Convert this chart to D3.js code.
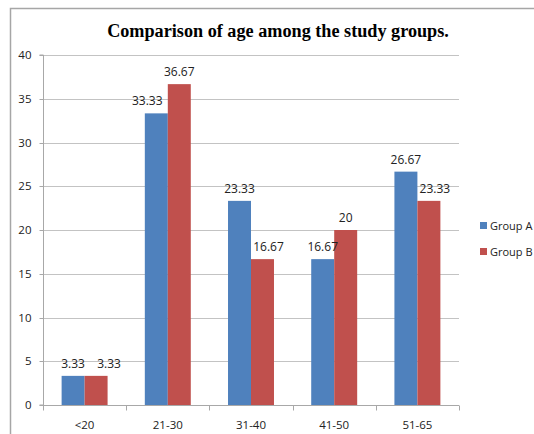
<!DOCTYPE html>
<html>
<head>
<meta charset="utf-8">
<script src="https://cdn.jsdelivr.net/npm/d3@7"></script>
<style>
  html, body { margin: 0; padding: 0; background: #fff; }
  svg { display: block; }
</style>
</head>
<body>
<div id="chart"></div>
<script>
const categories = ["<20", "21-30", "31-40", "41-50", "51-65"];
const seriesNames = ["Group A", "Group B"];
const groupA = [3.33, 33.33, 23.33, 16.67, 26.67];
const groupB = [3.33, 36.67, 16.67, 20, 23.33];
const yTicks = [0, 5, 10, 15, 20, 25, 30, 35, 40];
const colors = ["#4F81BD", "#C0504D"];

const W = 534, H = 434;
const plot = { left: 43, right: 459, top: 55, bottom: 405 };
const font = "'Open Sans', 'DejaVu Sans', sans-serif";

// sideways nudges (px) for value labels that sit beside a neighbouring bar
const labelNudge = {
  "<20":   [0, 13],
  "21-30": [-9, 0],
  "31-40": [0, 6],
  "41-50": [0, 0],
  "51-65": [0, 6]
};

const svg = d3.select("#chart").append("svg")
  .attr("width", W).attr("height", H);

// outer frame
svg.append("path")
  .attr("d", `M10.5,${H} V8.5 H${W}`)
  .attr("fill", "none").attr("stroke", "#a6a6a6").attr("stroke-width", 1.5);

svg.append("text")
  .attr("x", 278).attr("y", 37)
  .attr("text-anchor", "middle")
  .attr("font-family", "'Liberation Serif', 'Times New Roman', serif")
  .attr("font-weight", "bold").attr("font-size", 18.2)
  .text("Comparison of age among the study groups.");

const x = d3.scaleBand().domain(categories).range([plot.left, plot.right]).paddingInner(0).paddingOuter(0);
const x1 = d3.scaleBand().domain(seriesNames).range([0, x.bandwidth()]).paddingInner(0).paddingOuter(0.81);
const y = d3.scaleLinear().domain([0, 40]).range([plot.bottom, plot.top]);

// gridlines
svg.append("g").selectAll("line").data(yTicks.filter(d => d > 0)).join("line")
  .attr("x1", plot.left).attr("x2", plot.right)
  .attr("y1", d => Math.round(y(d)) + 0.5).attr("y2", d => Math.round(y(d)) + 0.5)
  .attr("stroke", "#c3c3c3").attr("stroke-width", 1);

const rows = categories.map((c, i) => ({ cat: c, vals: [groupA[i], groupB[i]] }));

const groups = svg.append("g").selectAll("g").data(rows).join("g")
  .attr("transform", d => `translate(${x(d.cat)},0)`);

groups.selectAll("rect").data(d => d.vals.map((v, j) => ({ v, s: seriesNames[j], j }))).join("rect")
  .attr("x", d => x1(d.s)).attr("width", x1.bandwidth())
  .attr("y", d => y(d.v)).attr("height", d => y(0) - y(d.v))
  .attr("fill", d => colors[d.j]);

groups.selectAll("text").data(d => d.vals.map((v, j) => ({ v, s: seriesNames[j], dx: labelNudge[d.cat][j] }))).join("text")
  .attr("x", d => x1(d.s) + x1.bandwidth() / 2 + d.dx)
  .attr("y", d => y(d.v) - 8)
  .attr("text-anchor", "middle")
  .attr("font-family", font)
  .attr("font-size", 12).attr("fill", "#222")
  .text(d => String(d.v));

// y axis
const yAxis = svg.append("g").attr("transform", `translate(${plot.left + 0.5},0)`)
  .call(d3.axisLeft(y).tickValues(yTicks).tickSize(4).tickPadding(8).tickFormat(d3.format("d")));
yAxis.select(".domain").attr("stroke", "#a8a8a8").attr("d", `M-4,${y(0)}H0V${y(40)}H-4`);
yAxis.selectAll(".tick line").attr("stroke", "#a8a8a8");
yAxis.selectAll(".tick").attr("transform", d => `translate(0,${Math.round(y(d)) + 0.5})`);
yAxis.selectAll("text").attr("font-family", font)
  .attr("font-size", 11.5).attr("fill", "#222");

// x axis
const xAxisG = svg.append("g").attr("transform", `translate(0,${plot.bottom + 0.5})`);
xAxisG.append("line").attr("x1", plot.left).attr("x2", plot.right)
  .attr("stroke", "#a8a8a8");
const bounds = categories.map(c => x(c)).concat([plot.right]);
xAxisG.selectAll("line.tk").data(bounds).join("line").attr("class", "tk")
  .attr("x1", d => Math.round(d) + 0.5).attr("x2", d => Math.round(d) + 0.5)
  .attr("y1", 0).attr("y2", 5).attr("stroke", "#a8a8a8");
xAxisG.selectAll("text").data(categories).join("text")
  .attr("x", d => x(d) + x.bandwidth() / 2).attr("y", 23)
  .attr("text-anchor", "middle")
  .attr("font-family", font)
  .attr("font-size", 11.5).attr("fill", "#222")
  .text(d => d);

// legend
const legend = svg.append("g").attr("transform", "translate(480,220)");
const li = legend.selectAll("g").data(seriesNames).join("g")
  .attr("transform", (d, i) => `translate(0,${i * 26})`);
li.append("rect").attr("width", 7).attr("height", 7).attr("y", 2)
  .attr("fill", (d, i) => colors[i]);
li.append("text").attr("x", 10).attr("y", 9.5)
  .attr("font-family", font)
  .attr("font-size", 11).attr("fill", "#222")
  .text(d => d);
</script>
</body>
</html>
